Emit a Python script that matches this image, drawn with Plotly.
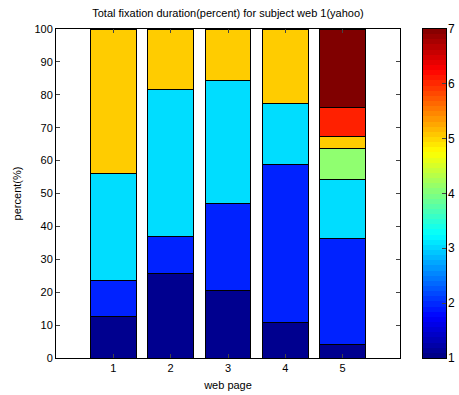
import plotly.graph_objects as go
import numpy as np

pages = [1, 2, 3, 4, 5]
# percent per fixation category (stacked), levels 1..7
s1 = [12.5, 25.7, 20.5, 10.7, 4.2]
s2 = [11.1, 11.2, 26.6, 48.2, 32.0]
s3 = [32.5, 44.8, 37.3, 18.5, 18.2]
s4 = [0.0, 0.0, 0.0, 0.0, 9.4]
s5 = [43.9, 18.3, 15.6, 22.6, 3.5]
s6 = [0.0, 0.0, 0.0, 0.0, 8.8]
s7 = [0.0, 0.0, 0.0, 0.0, 23.9]
series = [s1, s2, s3, s4, s5, s6, s7]
colors = ["#00008F", "#0022FF", "#00DDFF", "#90FF70", "#FFCC00", "#FF2000", "#800000"]
y_ticks = list(range(0, 101, 10))
cbar_ticks = [1, 2, 3, 4, 5, 6, 7]
cbar_min, cbar_max = 1, 7

jet = [[0.0, "rgb(0,0,128)"], [0.125, "rgb(0,0,255)"], [0.375, "rgb(0,255,255)"],
       [0.625, "rgb(255,255,0)"], [0.875, "rgb(255,0,0)"], [1.0, "rgb(128,0,0)"]]

W, H = 459, 395
L = 56
R = W - 446
T = 29
B = H - 358
pw = W - L - R
main_dom = [0, (400 - 56) / pw]
cb_dom = [(423 - 56) / pw, 1]

fig = go.Figure()
for i, (vals, c) in enumerate(zip(series, colors)):
    fig.add_trace(go.Bar(x=pages, y=vals, marker=dict(color=c, line=dict(color="black", width=1)),
                         showlegend=False, name=str(i + 1)))

# colorbar drawn as a 64-step heatmap (like MATLAB's jet(64))
n = 64
edges = np.linspace(cbar_min, cbar_max, n + 1)
centers = (edges[:-1] + edges[1:]) / 2
fig.add_trace(go.Heatmap(x=[0], y=centers, z=[[v] for v in centers], colorscale=jet,
                         zmin=cbar_min, zmax=cbar_max, showscale=False, hoverinfo="skip",
                         xaxis="x2", yaxis="y2"))

# colorbar tick labels placed just right of the bar
for t in cbar_ticks:
    fig.add_annotation(x=1, xref="paper", xanchor="left", xshift=0, y=t, yref="y2", yanchor="middle",
                       text=str(t), showarrow=False, font=dict(size=12, color="black"))

axfont = dict(size=11, color="black")
fig.update_layout(
    barmode="stack", bargap=0.2,
    width=W, height=H,
    margin=dict(l=L, r=R, t=T, b=B, autoexpand=False),
    paper_bgcolor="white", plot_bgcolor="white",
    font=dict(family="Liberation Sans, Arial, sans-serif", size=11, color="black"),
    title=dict(text="Total fixation duration(percent) for subject web 1(yahoo)",
               x=((56 + 400) / 2) / W, xanchor="center", y=1 - 13 / H, yanchor="middle",
               font=dict(size=11)),
    xaxis=dict(domain=main_dom, range=[0, 6], tickvals=pages, ticks="inside", ticklen=4, showline=True,
               mirror="ticks", linecolor="black", linewidth=1, showgrid=False, zeroline=False,
               automargin=False,
               title=dict(text="web page", standoff=8, font=axfont), tickfont=axfont),
    yaxis=dict(range=[0, 100], tickvals=y_ticks, ticks="inside", ticklen=4, showline=True, mirror="ticks",
               linecolor="black", linewidth=1, showgrid=False, zeroline=False, automargin=False,
               title=dict(text="percent(%)", standoff=10, font=axfont), tickfont=axfont),
    xaxis2=dict(domain=cb_dom, anchor="y2", range=[-0.5, 0.5], showticklabels=False, ticks="",
                showline=True, mirror=True, linecolor="black", linewidth=1, showgrid=False, zeroline=False,
                automargin=False),
    yaxis2=dict(anchor="x2", side="right", range=[cbar_min, cbar_max], tickvals=cbar_ticks,
                showticklabels=False, ticks="inside", ticklen=4, showline=True, mirror=True,
                linecolor="black", linewidth=1, showgrid=False, zeroline=False, automargin=False),
)

fig.write_html("out.html", config={"displayModeBar": False},
               post_script="document.body.style.margin='0';document.body.style.overflow='hidden';")
